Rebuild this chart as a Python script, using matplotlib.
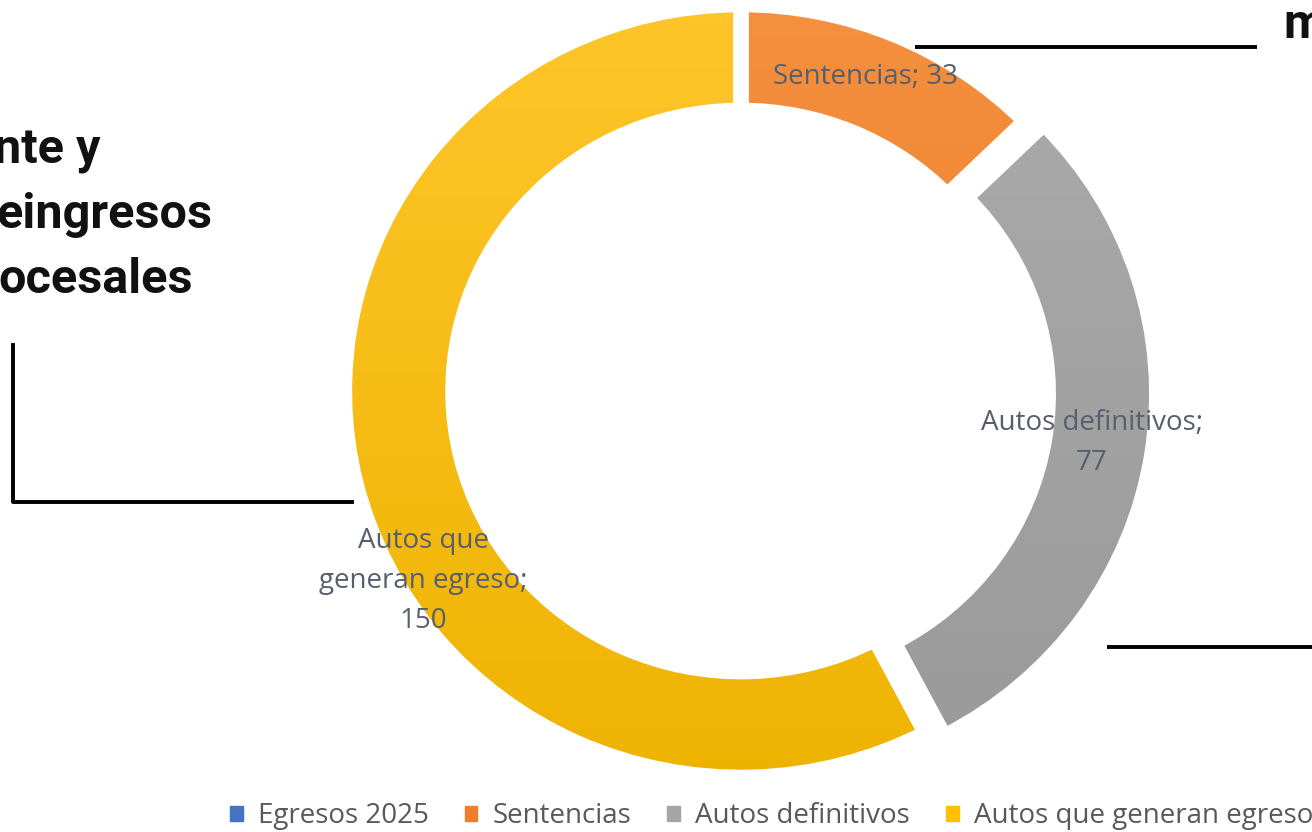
import matplotlib.pyplot as plt
import numpy as np
from matplotlib.colors import LinearSegmentedColormap
from matplotlib.patches import Rectangle

# data
categories = ["Egresos 2025", "Sentencias", "Autos definitivos", "Autos que generan egreso"]
values = [0, 33, 77, 150]
labels = ["", "Sentencias; 33", "Autos definitivos;\n77", "Autos que\ngeneran egreso;\n150"]
colors = ["#4472C4", "#ED7D31", "#A5A5A5", "#FFC000"]
grad_top = ["#5B8AD8", "#F5913F", "#ACACAC", "#FFC62C"]
grad_bottom = ["#3A66B8", "#EB7623", "#999999", "#EEB300"]
explode = [0, 0, 0.05, 0]

# where the data labels sit (figure pixels, from top-left)
label_pos = [None, (865, 77), (1092, 443), (423, 581)]

W, H = 1312, 832
fig = plt.figure(figsize=(W / 100, H / 100), dpi=100)
fig.patch.set_facecolor("white")

# donut axes (slightly wider than tall, like the reference)
cx, cy, sx, sy = 741, 391, 389, 379
lim = 1.2
ax = fig.add_axes([(cx - lim * sx) / W, (H - cy - lim * sy) / H,
                   2 * lim * sx / W, 2 * lim * sy / H])

edge = 10.8  # white gap between slices, in points
R = 1.019
ring = 0.278

wedges, _ = ax.pie(values, colors=colors, startangle=90, counterclock=False,
                   radius=R, explode=explode, wedgeprops=dict(width=ring, linewidth=0))

grad = np.linspace(0, 1, 256).reshape(-1, 1)
for i, w in enumerate(wedges):
    if values[i] == 0:
        continue
    cmap = LinearSegmentedColormap.from_list("g%d" % i, [grad_bottom[i], grad_top[i]])
    im = ax.imshow(grad, cmap=cmap, origin="lower", extent=(-1.1, 1.1, -1.1, 1.1),
                   aspect="auto", zorder=2)
    im.set_clip_path(w)

ax.pie(values, colors=["none"] * 4, startangle=90, counterclock=False, radius=R,
       explode=explode,
       wedgeprops=dict(width=ring, linewidth=edge, edgecolor="white", zorder=3))

ax.set_aspect("auto")
ax.set_xlim(-lim, lim)
ax.set_ylim(-lim, lim)
ax.axis("off")

# overlay in pixel coordinates for labels, callout lines and slide text
ov = fig.add_axes([0, 0, 1, 1], facecolor="none")
ov.set_xlim(0, W)
ov.set_ylim(H, 0)
ov.axis("off")

for lab, pos in zip(labels, label_pos):
    if pos is None:
        continue
    ov.text(pos[0], pos[1], lab, ha="center", va="center", fontsize=20,
            family="Open Sans", color="#575f6e", linespacing=1.55)

# black callout lines
ov.plot([915, 1257], [47, 47], color="black", lw=2.8, solid_capstyle="butt")
ov.plot([13, 13, 352], [345, 502, 502], color="black", lw=2.8)
ov.plot([1107, 1312], [647, 647], color="black", lw=2.8, solid_capstyle="butt")

# cut-off slide text
bold = dict(family="Roboto", fontweight="bold", fontsize=35, color="#111111")
ov.text(100, 163, "nte y", ha="right", va="baseline", **bold)
ov.text(212, 228, "eingresos", ha="right", va="baseline", **bold)
ov.text(193, 293, "ocesales", ha="right", va="baseline", **bold)
ov.text(1283, 38, "m", ha="left", va="baseline", **bold)

# legend
handles = [Rectangle((0, 0), 1, 1, color=c) for c in colors]
fig.legend(handles, categories, loc="center left", bbox_to_anchor=(230 / W, 1 - 816 / H),
           ncol=4, frameon=False, handlelength=0.45, handleheight=0.45, handletextpad=0.55,
           columnspacing=1.3, borderaxespad=0, borderpad=0,
           prop=dict(family="Open Sans", size=20), labelcolor="#595959")

fig.savefig("out.png", dpi=100)
